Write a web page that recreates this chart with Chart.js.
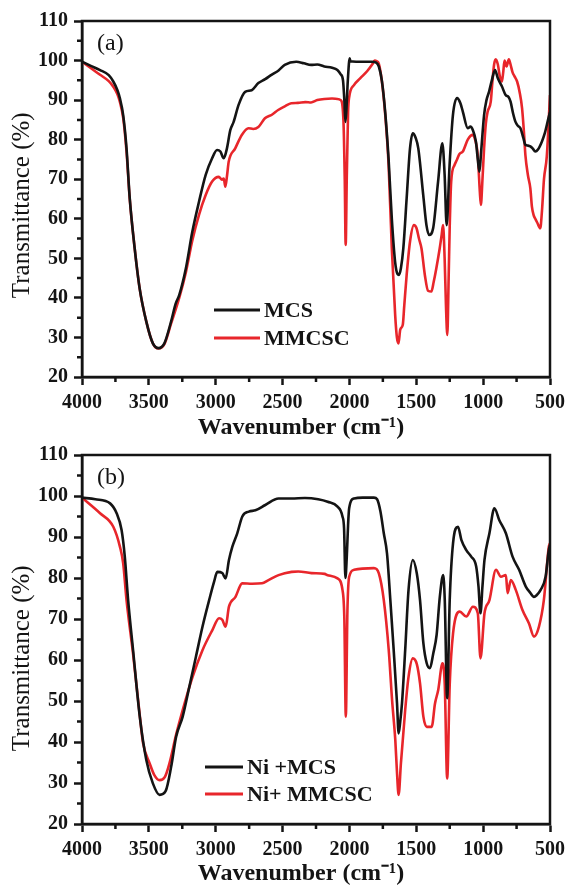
<!DOCTYPE html>
<html>
<head>
<meta charset="utf-8">
<script src="https://cdn.jsdelivr.net/npm/chart.js@4.4.0/dist/chart.umd.min.js"></script>
<style>
  body { margin: 0; background: #fff; }
  #wrap { position: relative; width: 571px; height: 892px; }
  canvas { position: absolute; left: 0; }
</style>
</head>
<body>
<div id="wrap">
  <canvas id="chartA" width="571" height="446" style="top:0px"></canvas>
  <canvas id="chartB" width="571" height="458" style="top:434px"></canvas>
</div>
<script>
// ---- panel (a) ----
var mcsWaveA = [4000,3930,3865,3800,3766,3735,3717,3692,3667,3643,3606,3569,3519,3470,3428,3384,3334,3300,3273,3223,3175,3125,3075,3027,2990,2965,2940,2916,2891,2866,2829,2780,2731,2681,2630,2583,2530,2484,2398,2340,2287,2240,2188,2130,2090,2065,2048,2038,2030,2022,2012,1998,1993,1950,1900,1833,1800,1780,1757,1732,1707,1683,1658,1640,1630,1615,1597,1572,1547,1526,1505,1485,1448,1424,1404,1374,1337,1305,1288,1273,1251,1226,1195,1170,1152,1115,1095,1078,1054,1040,1028,1015,993,975,956,935,911,890,860,832,810,795,775,758,740,721,700,684,665,647,630,610,590,561,540,512,500];
var mcsTA     = [99.7,98.6,97.6,96.3,94.7,92.5,90.5,86.2,77.8,65.2,52.5,42.4,34,28.5,27.3,28.5,34,38.5,40.7,47.5,56.7,64.3,71.1,75.3,77.4,77.0,75.3,77.8,82.4,84.5,88.8,92.1,92.5,94.3,95.3,96.4,97.5,98.9,99.7,99.3,98.9,99.0,98.5,98.2,97.6,96.5,95,90,84.5,88,95,100.6,99.8,99.7,99.7,99.7,99.5,98.5,94.8,86.8,75,60,49,46,45.8,47.5,52.5,65.2,77.8,81.6,80.5,77.8,66,58.4,55.9,57.6,69.4,79.1,71.1,58.4,73.6,86.2,90.5,89.2,87.1,82.9,83.3,82.5,79.5,75,71.9,77,86.2,90,92.1,95,97.6,95.5,93.5,91.3,90.8,89.6,86.5,84.5,83.5,82.9,80.5,78.7,78.5,78.3,77.8,77,77.5,79.5,81.5,85.4,87];
var mmcscWaveA = [4000,3930,3865,3800,3766,3735,3717,3692,3667,3643,3606,3569,3519,3470,3428,3384,3334,3273,3223,3175,3125,3075,3027,2977,2953,2940,2928,2915,2903,2854,2805,2755,2720,2681,2632,2580,2533,2480,2435,2385,2330,2287,2240,2188,2130,2090,2065,2045,2035,2028,2020,2010,2003,1966,1920,1868,1830,1811,1795,1781,1757,1732,1707,1683,1658,1645,1633,1620,1601,1590,1572,1547,1518,1498,1480,1461,1436,1412,1387,1370,1350,1325,1310,1300,1288,1278,1268,1258,1250,1239,1214,1195,1177,1152,1115,1078,1060,1040,1025,1017,1005,993,980,967,943,930,918,906,890,875,860,850,840,825,808,795,780,765,746,727,709,695,684,665,647,635,623,610,595,573,560,545,524,500];
var mmcscTA    = [99.7,98,96.4,94.8,93.4,91.5,89.6,85.5,77,65,52.5,42.4,34,28.5,27.2,28.3,33.5,40,46.5,54.5,61,66,69.4,70.6,69.9,70.2,68.1,71,74.4,77.8,81.2,82.9,82.7,83.2,85.4,86.3,87.5,88.5,89.2,89.3,89.5,89.4,90,90.3,90.4,90.3,90,85,70,53.4,70,87,90.5,93.8,95.5,97.3,99,100,99.8,99.3,94.7,86.2,73.6,52.5,35.7,30,28.5,32,33.2,38,45.8,54.2,58.4,57.6,55,52.5,45.8,41.8,41.6,44,47.5,52.5,56,58.4,50,38,30.6,45,58,69.4,73.6,75,76.4,77,80,81.2,80,76,67,63.5,70,77.8,84,87,89.6,95,99,100.3,99,96,94.7,97,100,98.5,100.3,99,97,96,94.7,92,88,82,76.1,71,67.7,63,61,60,59,57.6,62,70,75.8,91.3];

// ---- panel (b) ----
var niMcsWave = [4000,3900,3790,3741,3704,3680,3655,3618,3568,3519,3470,3420,3375,3333,3296,3247,3197,3148,3099,3049,3012,2988,2951,2926,2901,2876,2839,2801,2752,2703,2629,2530,2432,2333,2234,2163,2089,2052,2040,2030,2020,2010,2002,1965,1900,1817,1793,1768,1743,1719,1694,1669,1644,1632,1620,1607,1583,1558,1526,1496,1472,1447,1422,1398,1373,1348,1324,1299,1287,1269,1250,1225,1188,1163,1126,1089,1052,1035,1020,1005,990,953,916,879,830,780,731,681,650,620,600,570,533,509,500];
var niMcsT    = [99.6,99.2,98.2,95.8,91.7,85.2,74.6,62.4,46.2,35.6,29.9,27.1,28,34,41.3,46.2,53.5,60.8,68.1,74.6,79.1,81.5,81.2,79.9,84.4,87.6,90.9,95,96.2,96.5,97.8,99.4,99.4,99.5,99.2,98.6,97.4,95,92,80,85,93,97,99.4,99.6,99.6,99.2,96.2,90.9,86,74.6,62.4,49.4,42.1,45,49.4,62.4,77.1,84.4,81.1,74.6,64.1,59.2,58,61.6,66.1,75.4,80.7,74.6,50.7,74.6,88.5,92.5,89.3,86.8,85.2,82.8,78,71.4,78,84.4,90.9,97,94.1,90.9,85.2,82,77.9,76.5,75.4,75.8,77.1,80.3,86.8,88];
var niMmcscWave = [4000,3865,3766,3716,3692,3667,3618,3568,3543,3494,3460,3420,3380,3346,3296,3247,3173,3099,3025,2975,2951,2926,2901,2852,2802,2728,2654,2605,2530,2432,2383,2284,2185,2163,2089,2052,2038,2027,2015,2002,1965,1817,1780,1743,1706,1681,1657,1645,1632,1615,1583,1558,1526,1496,1472,1447,1422,1385,1360,1336,1304,1287,1269,1250,1225,1175,1126,1077,1040,1020,990,953,904,867,830,817,793,756,706,657,620,583,546,509,500];
var niMmcscT    = [99.6,95.8,92.5,87.6,83.6,74.6,61.5,46.5,39.7,34.8,32,30.7,31.5,34.8,41.8,47.8,55.9,62.4,67.3,70.2,69.8,68.1,73,75.4,78.7,78.6,78.7,79.5,80.7,81.5,81.6,81.2,81,80.7,79.9,77.1,70,46.2,72,80.3,82,82.4,81.1,74.6,62.4,50.2,40.5,33,27.1,34.8,47.8,55.9,60.4,59,54.3,46.2,43.7,43.7,49.4,52.7,59.2,54,31.1,54,66.5,71.8,70.6,73,71.4,60.4,71.4,74.6,82,80.3,80.7,76.3,79.5,77.1,72.2,68.9,65.7,68.1,74.6,87.6,88.5];

var minorXTicks = [3750,3250,2750,2250,1750,1250,750];
var minorYTicks = [25,35,45,55,65,75,85,95,105];

var serif = "'Liberation Serif', 'Times New Roman', serif";
var ink = '#141414';
var red = '#e8262b';
var nb = '\u00A0';

function pts(w, t) {
  return w.map(function (v, i) { return { x: v, y: t[i] }; });
}

// frame, minor ticks, panel tag and legend
var decor = {
  id: 'decor',
  afterDraw: function (chart, args, o) {
    var ctx = chart.ctx, a = chart.chartArea;
    var xs = chart.scales.x, ys = chart.scales.y;
    ctx.save();
    ctx.strokeStyle = ink;
    ctx.lineWidth = 2.5;
    ctx.strokeRect(a.left, a.top, a.right - a.left, a.bottom - a.top);
    ctx.beginPath();
    minorXTicks.forEach(function (w) {
      var px = xs.getPixelForValue(w);
      ctx.moveTo(px, a.bottom); ctx.lineTo(px, a.bottom + 5);
    });
    minorYTicks.forEach(function (t) {
      var py = ys.getPixelForValue(t);
      ctx.moveTo(a.left, py); ctx.lineTo(a.left - 5, py);
    });
    ctx.stroke();

    ctx.fillStyle = ink;
    ctx.textBaseline = 'middle';
    ctx.font = '24px ' + serif;
    ctx.fillText(o.tag, a.left + 15, a.top + 23);

    ctx.font = 'bold 22px ' + serif;
    chart.data.datasets.forEach(function (ds, i) {
      var ly = o.legendY + i * o.legendGap;
      ctx.strokeStyle = ds.borderColor;
      ctx.lineWidth = 3;
      ctx.beginPath();
      ctx.moveTo(o.legendX, ly); ctx.lineTo(o.legendX + o.lineLen, ly);
      ctx.stroke();
      ctx.fillText(ds.label, o.legendX + o.lineLen + 4, ly + 1);
    });
    ctx.restore();
  }
};

function makePanel(id, tag, names, s1, s2, xH, yShift, leg) {
  return new Chart(document.getElementById(id), {
    type: 'line',
    data: {
      datasets: [
        { label: names[0], data: pts(s1[0], s1[1]), borderColor: ink, borderWidth: 2.6,
          pointRadius: 0, fill: false, cubicInterpolationMode: 'monotone' },
        { label: names[1], data: pts(s2[0], s2[1]), borderColor: red, borderWidth: 2.6,
          pointRadius: 0, fill: false, cubicInterpolationMode: 'monotone' }
      ]
    },
    options: {
      responsive: false,
      animation: false,
      events: [],
      layout: { padding: { left: 0, top: 21, right: 16, bottom: 0 } },
      plugins: {
        legend: { display: false },
        tooltip: { enabled: false },
        decor: { tag: tag, legendX: leg[0], legendY: leg[1], legendGap: leg[2], lineLen: leg[3] }
      },
      scales: {
        x: {
          type: 'linear', reverse: true, min: 500, max: 4000,
          ticks: { stepSize: 500, autoSkip: false, maxRotation: 0, padding: 6, color: ink,
                   font: { family: serif, size: 20, weight: 'bold' },
                   callback: function (v) { return String(v); } },
          grid: { drawOnChartArea: false, drawTicks: true, tickLength: 8, tickWidth: 2.5, tickColor: ink },
          border: { display: true, width: 2.5, color: ink },
          title: { display: true, text: 'Wavenumber (cm\u207B\u00B9)' + nb.repeat(5), color: ink,
                   font: { family: serif, size: 24, weight: 'bold' }, padding: { top: 0, bottom: 4 } },
          afterFit: function (s) { s.height = xH; }
        },
        y: {
          min: 20, max: 110,
          ticks: { stepSize: 10, padding: 6, color: ink,
                   font: { family: serif, size: 20, weight: 'bold' },
                   callback: function (v) { return String(v); } },
          grid: { drawOnChartArea: false, drawTicks: true, tickLength: 8, tickWidth: 2.5, tickColor: ink },
          border: { display: true, width: 2.5, color: ink },
          title: { display: true, text: 'Transmittance (%)' + nb.repeat(yShift), color: ink,
                   font: { family: serif, size: 25 }, padding: { top: 7, bottom: 0 } },
          afterFit: function (s) { s.width = 82; }
        }
      }
    },
    plugins: [decor]
  });
}

makePanel('chartA', '(a)', ['MCS', 'MMCSC'],
  [mcsWaveA, mcsTA], [mmcscWaveA, mmcscTA], 69, 2, [214, 310, 28, 46]);
makePanel('chartB', '(b)', ['Ni +MCS', 'Ni+ MMCSC'],
  [niMcsWave, niMcsT], [niMmcscWave, niMmcscT], 68, 6, [205, 333, 27, 38]);
</script>
</body>
</html>
